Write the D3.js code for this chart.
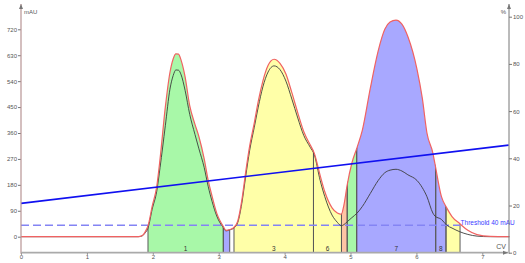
<!DOCTYPE html>
<html>
<head>
<meta charset="utf-8">
<script src="https://cdn.jsdelivr.net/npm/d3@7"></script>
<style>
  body { margin: 0; background: #fff; }
  svg { display: block; }
  text { font-family: "Liberation Sans", Arial, sans-serif; }
</style>
</head>
<body>
<script>
// chromatogram data
const cv = [0, 1.78, 1.84, 1.88, 1.93, 1.99, 2.06, 2.11, 2.19, 2.26, 2.31, 2.35, 2.39, 2.43, 2.49, 2.56, 2.64,
  2.70, 2.78, 2.84, 2.90, 2.97, 3.02, 3.07, 3.11, 3.17, 3.23, 3.29, 3.35, 3.41, 3.47, 3.54, 3.60,
  3.67, 3.75, 3.84, 3.93, 4.02, 4.11, 4.20, 4.29, 4.39, 4.45, 4.54, 4.61, 4.72, 4.80, 4.86, 4.90,
  4.95, 5.02, 5.10, 5.18, 5.30, 5.42, 5.52, 5.60, 5.69, 5.78, 5.87, 6.01, 6.09, 6.16, 6.25, 6.28,
  6.38, 6.46, 6.54, 6.66, 6.78, 6.92, 7.12, 7.41]
const uvA = [0, 0, 4, 15, 40, 105, 175, 270, 450, 570, 618, 635, 634, 612, 555, 455, 390,
  347, 270, 196, 140, 82, 55, 35, 22, 25, 32, 55, 125, 225, 315, 395, 470,
  540, 595, 616, 602, 565, 500, 430, 365, 318, 290, 212, 156, 100, 82, 78, 110,
  180, 255, 310, 370, 515, 645, 720, 745, 752, 738, 695, 580, 480, 360, 290, 255,
  139, 100, 70, 45, 22, 7, 1, 0]
const uvB = [0, 0, 3, 12, 32, 95, 158, 240, 385, 512, 560, 579, 578, 562, 508, 425, 355,
  305, 240, 175, 122, 72, 48, 32, 20, 24, 30, 50, 115, 210, 300, 380, 450,
  520, 572, 593, 580, 540, 478, 412, 352, 310, 285, 195, 139, 75, 50, 38, 42,
  52, 66, 82, 105, 150, 195, 222, 231, 234, 228, 215, 195, 170, 139, 82, 72,
  60, 40, 30, 17, 8, 2, 0, 0]

// fractions
const fracStart = [1.927, 3.07, 3.232, 4.438, 4.863, 4.95, 5.094, 6.293, 6.449]
const fracEnd = [3.07, 3.167, 4.438, 4.863, 4.95, 5.094, 6.293, 6.449, 6.662]
const fracLabel = ['1', '', '3', '6', '', '', '7', '8', '']
const fracKind = ['g', 'b', 'y', 'y', 'o', 'g', 'b', 'b', 'y']

// gradient (%) and threshold
const gradCv = [0, 7.4]
const gradPct = [20.9, 45.6]
const threshold = 40

// ticks
const xTicks = [0, 1, 2, 3, 4, 5, 6, 7]
const leftTicks = [0, 90, 180, 270, 360, 450, 540, 630, 720]
const rightTicks = [0, 20, 40, 60, 80, 100]

const W = 525
const H = 263
const axisL = 21
const axisR = 509
const axisB = 252.7
const axisTop = 4

const svg = d3.select('body').append('svg')
  .attr('width', W)
  .attr('height', H)

const x = d3.scaleLinear().domain([0, 7.405]).range([axisL, axisR])
const yL = d3.scaleLinear().domain([0, 720]).range([236.7, 29.3])
const yR = d3.scaleLinear().domain([0, 100]).range([axisB, 16.7])

const kindColor = d3.scaleOrdinal()
  .domain(['g', 'b', 'y', 'o'])
  .range(['#a8f8a8', '#a8a8ff', '#ffffa8', '#ffc4a4'])

const pts = cv.map((c, i) => ({ cv: c, a: uvA[i], b: uvB[i] }))

const area = d3.area()
  .x(d => x(d.cv))
  .y0(axisB)
  .y1(d => yL(d.a))
  .curve(d3.curveMonotoneX)

const lineA = d3.line().x(d => x(d.cv)).y(d => yL(d.a)).curve(d3.curveMonotoneX)
const lineB = d3.line().x(d => x(d.cv)).y(d => yL(d.b)).curve(d3.curveMonotoneX)

const defs = svg.append('defs')
defs.append('clipPath').attr('id', 'under')
  .append('path').attr('d', area(pts))

// fraction fills, each clipped to its cv range
fracStart.forEach((s, i) => {
  defs.append('clipPath').attr('id', 'fr' + i)
    .append('rect')
    .attr('x', x(s))
    .attr('y', 0)
    .attr('width', x(fracEnd[i]) - x(s))
    .attr('height', H)
  svg.append('path')
    .attr('d', area(pts))
    .attr('clip-path', `url(#fr${i})`)
    .style('fill', kindColor(fracKind[i]))
})

// fraction edges, cut by the curve
const edges = svg.append('g').attr('clip-path', 'url(#under)')
fracStart.forEach((s, i) => {
  [s, fracEnd[i]].forEach(c => {
    edges.append('line')
      .attr('x1', x(c)).attr('x2', x(c))
      .attr('y1', axisB).attr('y2', 0)
      .style('stroke', '#5a5a5a')
      .style('stroke-width', 1)
  })
})

// fraction numbers
svg.selectAll('text.frac')
  .data(fracLabel.map((l, i) => ({ l, c: (fracStart[i] + fracEnd[i]) / 2 })).filter(d => d.l))
  .enter()
  .append('text')
  .attr('class', 'frac')
  .attr('x', d => x(d.c))
  .attr('y', 250.5)
  .attr('text-anchor', 'middle')
  .style('font-size', '6.5px')
  .style('fill', '#333')
  .text(d => d.l)

// threshold
svg.append('line')
  .attr('x1', axisL).attr('x2', x(6.66))
  .attr('y1', yL(threshold)).attr('y2', yL(threshold))
  .style('stroke', '#8484f4')
  .style('stroke-width', 1.5)
  .style('stroke-dasharray', '8,4')

svg.append('text')
  .attr('x', x(6.67))
  .attr('y', yL(threshold) - 0.5)
  .style('font-size', '6.5px')
  .style('fill', '#3a3aff')
  .text(`Threshold ${threshold} mAU`)

// uv curves
svg.append('path')
  .attr('d', lineB(pts))
  .style('fill', 'none')
  .style('stroke', '#3c3c3c')
  .style('stroke-width', 0.9)

svg.append('path')
  .attr('d', lineA(pts))
  .style('fill', 'none')
  .style('stroke', '#f06262')
  .style('stroke-width', 1.2)

// gradient
svg.append('line')
  .attr('x1', x(gradCv[0])).attr('x2', x(gradCv[1]))
  .attr('y1', yR(gradPct[0])).attr('y2', yR(gradPct[1]))
  .style('stroke', '#1010f0')
  .style('stroke-width', 1.6)

//
// axes
//
const tickStyle = g => {
  g.select('.domain').remove()
  g.selectAll('line').style('stroke', '#777')
  g.selectAll('text')
    .style('font-size', '6px')
    .style('fill', '#555')
    .style('font-family', '"Liberation Sans", Arial, sans-serif')
}

svg.append('g')
  .attr('transform', `translate(${axisL},0)`)
  .call(d3.axisLeft(yL).tickValues(leftTicks).tickSize(3).tickPadding(1))
  .call(tickStyle)

svg.append('g')
  .attr('transform', `translate(${axisR},0)`)
  .call(d3.axisRight(yR).tickValues(rightTicks).tickSize(3).tickPadding(1))
  .call(tickStyle)

svg.append('g')
  .attr('transform', `translate(0,${axisB})`)
  .call(d3.axisBottom(x).tickValues(xTicks).tickFormat(d3.format('d')).tickSize(2).tickPadding(0.5))
  .call(tickStyle)

// axis lines with arrow heads
svg.append('line')
  .attr('x1', axisL).attr('x2', axisL)
  .attr('y1', axisB + 1).attr('y2', axisTop)
  .style('stroke', '#b89494')
  .style('stroke-width', 1.2)

svg.append('line')
  .attr('x1', axisR).attr('x2', axisR)
  .attr('y1', axisB + 1).attr('y2', axisTop)
  .style('stroke', '#777')
  .style('stroke-width', 1)

svg.append('line')
  .attr('x1', axisL).attr('x2', axisR - 1)
  .attr('y1', axisB).attr('y2', axisB)
  .style('stroke', '#aaa')
  .style('stroke-width', 1.8)

const arrow = (px, py, dir) => {
  const p = dir === 'up'
    ? [[px, py], [px - 2, py + 5], [px + 2, py + 5]]
    : [[px, py], [px - 5, py - 2], [px - 5, py + 2]]
  svg.append('path')
    .attr('d', d3.line()(p) + 'Z')
    .style('fill', '#777')
}
arrow(axisL, axisTop, 'up')
arrow(axisR, axisTop, 'up')
arrow(axisR - 1, axisB, 'right')

// axis titles
svg.append('text')
  .attr('x', axisL + 3).attr('y', 14)
  .style('font-size', '6px').style('fill', '#555')
  .text('mAU')

svg.append('text')
  .attr('x', axisR - 3).attr('y', 14)
  .attr('text-anchor', 'end')
  .style('font-size', '6px').style('fill', '#555')
  .text('%')

svg.append('text')
  .attr('x', axisR - 3).attr('y', 249)
  .attr('text-anchor', 'end')
  .style('font-size', '7px').style('fill', '#555')
  .text('CV')
</script>
</body>
</html>
